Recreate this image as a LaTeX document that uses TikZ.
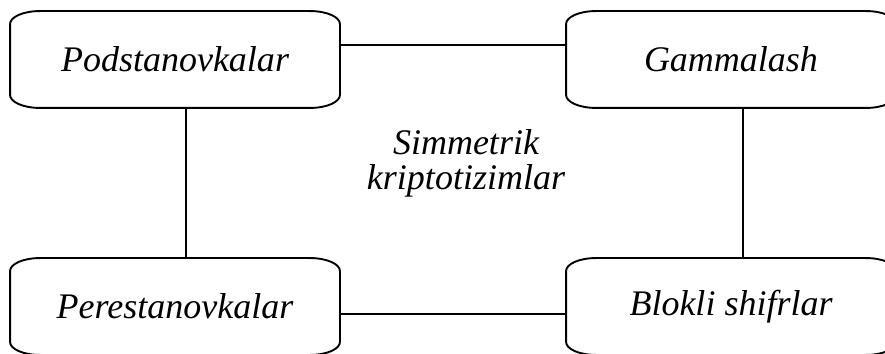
\documentclass[tikz,border=0pt]{standalone}
\usepackage{fontspec}
\setmainfont{Liberation Serif}
\usetikzlibrary{calc}
\usetikzlibrary{positioning}

\begin{document}
\begin{tikzpicture}[
	x=1pt, y=1pt,
	line width=1.9pt,
	every node/.style={font=\fontsize{36}{40}\selectfont\itshape},
	ovalbox/.style = {minimum width=328pt, minimum height=95pt, inner sep=0pt,
		append after command={\pgfextra{\draw[line width=1.9pt]
			([xshift=30pt]\tikzlastnode.north west) -- ([xshift=-30pt]\tikzlastnode.north east)
			arc[start angle=90,end angle=0,x radius=30pt,y radius=13pt]
			-- ([yshift=13pt]\tikzlastnode.south east)
			arc[start angle=0,end angle=-90,x radius=30pt,y radius=13pt]
			-- ([xshift=30pt]\tikzlastnode.south west)
			arc[start angle=270,end angle=180,x radius=30pt,y radius=13pt]
			-- ([yshift=-13pt]\tikzlastnode.north west)
			arc[start angle=180,end angle=90,x radius=30pt,y radius=13pt] -- cycle;}}},
	centertext/.style = {align=center, font=\fontsize{36}{35}\selectfont\itshape}
	]
	\useasboundingbox (0,0) rectangle (885,353);

	\node[ovalbox] (pod) at (175,293.5) {Podstanovkalar};
	\node[ovalbox] (gam) at (731,293.5) {Gammalash};
	\node[ovalbox] (per) at (175,46.5) {Perestanovkalar};
	\node[ovalbox] (blo) at (731,46.5) {Blokli shifrlar};

	\node[centertext] (sim) at (466,190) {Simmetrik\\kriptotizimlar};

	\draw ($(pod.north east)!0.35!(pod.south east)$) -- ($(gam.north west)!0.35!(gam.south west)$);
	\draw ($(per.north east)!0.58!(per.south east)$) -- ($(blo.north west)!0.58!(blo.south west)$);
	\draw ($(pod.south west)!0.534!(pod.south east)$) -- ($(per.north west)!0.534!(per.north east)$);
	\draw ($(gam.south west)!0.537!(gam.south east)$) -- ($(blo.north west)!0.537!(blo.north east)$);

\end{tikzpicture}
\end{document}
